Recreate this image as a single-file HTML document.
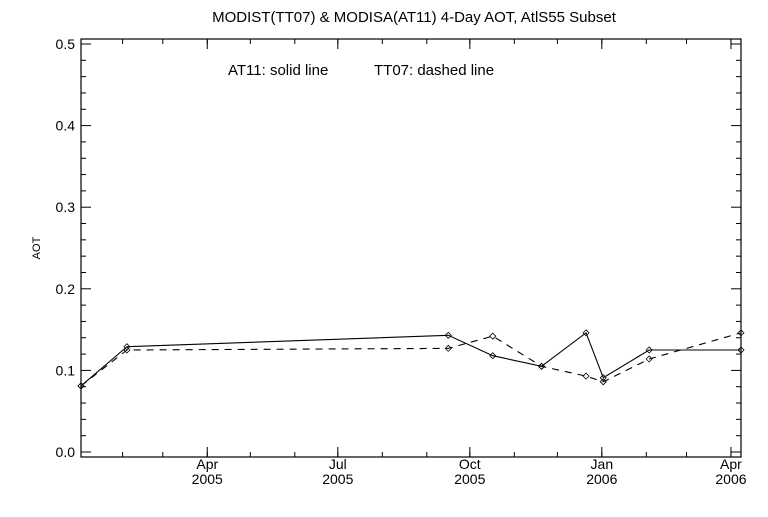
<!DOCTYPE html>
<html><head><meta charset="utf-8"><style>
body{margin:0;background:#fff}
svg text{font-family:"Liberation Sans",sans-serif;fill:#000}
</style></head><body>
<svg id="c" width="768" height="512"></svg>
<script>
const dates=["2005-01-03","2005-02-04","2005-09-16","2005-10-17","2005-11-20","2005-12-21","2006-01-02","2006-02-03","2006-04-08"];
const at11=[0.081,0.129,0.143,0.118,0.105,0.146,0.091,0.125,0.125];
const tt07=[0.081,0.125,0.127,0.142,0.105,0.093,0.086,0.114,0.146];
const yTicks=["0.0","0.1","0.2","0.3","0.4","0.5"];
const xTickDates=["2005-04-01","2005-07-01","2005-10-01","2006-01-01","2006-04-01"];
const xTickLabels=[["Apr","2005"],["Jul","2005"],["Oct","2005"],["Jan","2006"],["Apr","2006"]];
const NS="http://www.w3.org/2000/svg",svg=document.getElementById('c');
const L=81,R=741,T=39,B=457;
const d0=Date.UTC(2005,0,3),d1=Date.UTC(2006,3,8.5);
function px(s){const t=Date.parse(s+"T00:00:00Z");return L+(t-d0)/(d1-d0)*(R-L);}
function py(v){return 452-v*816;}
function mk(tag,a,p){const e=document.createElementNS(NS,tag);for(const k in a)e.setAttribute(k,a[k]);(p||svg).appendChild(e);return e;}
let f=mk('rect',{x:L,y:T,width:R-L,height:B-T,fill:'none',stroke:'#000','stroke-width':1.2});


let t=mk('text',{x:414,y:22,'text-anchor':'middle','font-size':15});t.textContent="MODIST(TT07) & MODISA(AT11) 4-Day AOT, AtlS55 Subset";


let lg=mk('text',{x:228,y:75,'font-size':15});lg.textContent="AT11: solid line";


let lg2=mk('text',{x:374,y:75,'font-size':15});lg2.textContent="TT07: dashed line";


let yt=mk('text',{x:40,y:248,'text-anchor':'middle','font-size':11,transform:'rotate(-90 40 248)'});yt.textContent="AOT";


for(let i=0;i<yTicks.length;i++){const v=parseFloat(yTicks[i]),y=py(v);
 mk('line',{x1:L,x2:L+10,y1:y,y2:y,stroke:'#000'});mk('line',{x1:R,x2:R-10,y1:y,y2:y,stroke:'#000'});
 let tx=mk('text',{x:L-6,y:y+5,'text-anchor':'end','font-size':14});tx.textContent=yTicks[i];
 
 
 for(let j=1;j<5&&i<yTicks.length-1;j++){const ym=py(v+j*0.02);mk('line',{x1:L,x2:L+5,y1:ym,y2:ym,stroke:'#000'});mk('line',{x1:R,x2:R-5,y1:ym,y2:ym,stroke:'#000'});}
}
for(let m=1;m<=15;m++){const d=new Date(Date.UTC(2005,m,1)).toISOString().slice(0,10),x=px(d);if(x>R)break;
 mk('line',{x1:x,x2:x,y1:B,y2:B-5,stroke:'#000'});mk('line',{x1:x,x2:x,y1:T,y2:T+5,stroke:'#000'});}
for(let i=0;i<xTickDates.length;i++){const x=px(xTickDates[i]);
 mk('line',{x1:x,x2:x,y1:B,y2:B-10,stroke:'#000'});mk('line',{x1:x,x2:x,y1:T,y2:T+10,stroke:'#000'});
 for(let k=0;k<2;k++){let tx=mk('text',{x:x,y:B+12+k*15,'text-anchor':'middle','font-size':14});tx.textContent=xTickLabels[i][k];
 
 }
}
function series(vals,dash,name){
 const pts=vals.map((v,i)=>[Math.min(px(dates[i]),R),py(v)]);
 let p=mk('polyline',{points:pts.map(q=>q.join(',')).join(' '),fill:'none',stroke:'#000','stroke-width':1.1,'stroke-dasharray':dash});
 
 
 pts.forEach(q=>{let m=mk('path',{d:`M${q[0]-3},${q[1]}L${q[0]},${q[1]-3}L${q[0]+3},${q[1]}L${q[0]},${q[1]+3}Z`,fill:'none',stroke:'#000','stroke-width':0.8});
 
 });
}
series(at11,'none','at11');
series(tt07,'7,6','tt07');
</script>
</body></html>
